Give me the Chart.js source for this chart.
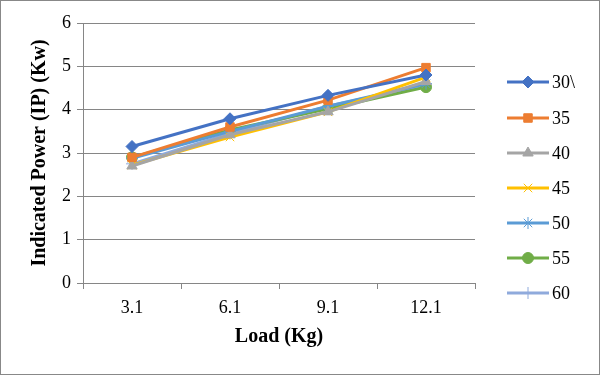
<!DOCTYPE html>
<html><head><meta charset="utf-8">
<script src="https://cdn.jsdelivr.net/npm/chart.js@4/dist/chart.umd.min.js"></script>
<style>html,body{margin:0;padding:0;background:#fff}#wrap{width:600px;height:375px;position:relative}</style>
</head><body><div id="wrap"><canvas id="c" width="600" height="375"></canvas></div>
<script>
const loads = ["3.1","6.1","9.1","12.1"];
const seriesNames = ["30\\","35","40","45","50","55","60"];
const s30 = [3.15, 3.79, 4.33, 4.80];
const s35 = [2.90, 3.60, 4.22, 4.97];
const s40 = [2.70, 3.42, 3.95, 4.65];
const s45 = [2.72, 3.37, 3.95, 4.75];
const s50 = [2.88, 3.50, 4.08, 4.60];
const s55 = [2.90, 3.53, 4.02, 4.52];
const s60 = [2.75, 3.45, 4.08, 4.57];
const yTicks = [0,1,2,3,4,5,6];

const colors = ["#4472C4","#ED7D31","#A5A5A5","#FFC000","#5B9BD5","#70AD47","#8FAADC"];
const styles = ["rectRot","rect","triangle","crossRot","star","circle","cross"];
const radii = [6,6,6,6,6,5.5,6];
const all = [s30,s35,s40,s45,s50,s55,s60];

const datasets = all.map((d,i)=>({
  label: seriesNames[i], data: d, borderColor: colors[i], backgroundColor: colors[i],
  borderWidth: 3, pointStyle: styles[i], pointRadius: radii[i], pointHoverRadius: radii[i],
  pointBorderColor: colors[i], pointBackgroundColor: colors[i], pointBorderWidth: 1,
  tension: 0, fill: false
}));

const serif = "'Liberation Serif','Times New Roman',serif";

const legendPlugin = {
  id: 'customLegend',
  afterDraw(chart){
    const ctx = chart.ctx;
    const rows = [82,118,153,188,223,258,293];
    chart.data.datasets.forEach((ds,i)=>{
      const y = rows[i];
      ctx.save();
      ctx.strokeStyle = ds.borderColor; ctx.lineWidth = 3;
      ctx.beginPath(); ctx.moveTo(507,y); ctx.lineTo(549,y); ctx.stroke();
      ctx.fillStyle = ds.backgroundColor; ctx.strokeStyle = ds.borderColor; ctx.lineWidth = 1;
      Chart.helpers.drawPoint(ctx, {pointStyle: ds.pointStyle, rotation: 0, borderWidth: 1, radius: ds.pointRadius}, 528, y);
      ctx.fillStyle = '#000'; ctx.font = "18px " + serif; ctx.textBaseline = 'middle'; ctx.textAlign='left';
      ctx.fillText(ds.label, 552, y+1);
      ctx.restore();
    });
    ctx.save(); ctx.strokeStyle = '#888'; ctx.lineWidth = 1;
    ctx.strokeRect(0.5,0.5,599,374); ctx.restore();
  }
};

new Chart(document.getElementById('c'), {
  type: 'line',
  data: { labels: loads, datasets },
  options: {
    responsive: false, animation: false, devicePixelRatio: 1,
    layout: { padding: { top: 23, right: 125, bottom: 26, left: 28 } },
    plugins: { legend: { display: false }, tooltip: { enabled: false } },
    scales: {
      x: {
        offset: true,
        grid: { offset: true, drawOnChartArea: false, drawTicks: true, tickLength: 6, color: '#868686' },
        border: { color: '#868686', width: 1 },
        ticks: { color: '#000', font: { family: serif, size: 18 }, padding: 8 },
        title: { display: true, text: 'Load (Kg)', color: '#000', font: { family: serif, size: 20, weight: 'bold' }, padding: { top: 2, bottom: 0 } },
        afterFit(s){ s.height = 375 - 283 - 26; }
      },
      y: {
        min: 0, max: 6,
        afterBuildTicks(s){ s.ticks = yTicks.map(v=>({value:v})); },
        grid: { color: '#868686', tickLength: 6, drawTicks: true },
        border: { color: '#868686', width: 1 },
        ticks: { color: '#000', font: { family: serif, size: 18 }, padding: 6 },
        title: { display: true, text: 'Indicated Power (IP) (Kw)', color: '#000', font: { family: serif, size: 20, weight: 'bold' }, padding: { top: 0, bottom: 0 } },
        afterFit(s){ s.width = 83 - 28; }
      }
    }
  },
  plugins: [legendPlugin]
});
</script></body></html>
